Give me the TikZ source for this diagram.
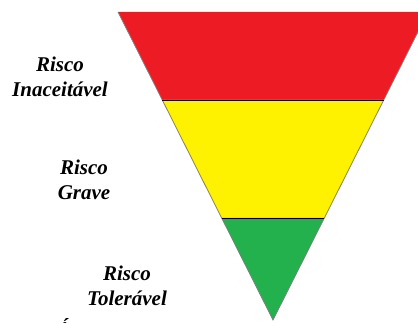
\documentclass[tikz,border=0pt]{standalone}
\usepackage{fontspec}
\setmainfont{Liberation Serif}
\usepackage{xcolor}
\definecolor{RiskRed}{HTML}{ED1C24}
\definecolor{RiskYellow}{HTML}{FFF200}
\definecolor{RiskGreen}{HTML}{22B14C}
\definecolor{EdgeGray}{HTML}{7F7F7F}

\begin{document}
\begin{tikzpicture}[
    x=1pt, y=-1pt,
    band/.style={draw=none},
    edge/.style={draw=EdgeGray, line width=0.8pt},
    divider/.style={draw=black, line width=0.9pt},
    risk/.style={align=center, font=\fontsize{21}{25}\selectfont\bfseries\itshape}
  ]
    \useasboundingbox (0,0) rectangle (418,323);
    \clip (0,0) rectangle (418,323);
    % corners of the funnel
    \coordinate (tl) at (118,12);
    \coordinate (tr) at (428,12);
    \coordinate (ml) at (162.3,100);
    \coordinate (mr) at (383.7,100);
    \coordinate (ll) at (221.7,218);
    \coordinate (lr) at (324.3,218);
    \coordinate (apex) at (273,320);
    % bands
    \fill[RiskRed] (tl) -- (tr) -- (mr) -- (ml) -- cycle;
    \fill[RiskYellow] (ml) -- (mr) -- (lr) -- (ll) -- cycle;
    \fill[RiskGreen] (ll) -- (lr) -- (apex) -- cycle;
    \draw[edge] (tl) -- (apex) -- (tr);
    \draw[divider] (ml) -- (mr);
    \draw[divider] (ll) -- (lr);
    % labels
    \node[risk] (inaceitavel) at (60,77) {Risco\\Inaceitável};
    \node[risk] (grave) at (84,180) {Risco\\Grave};
    \node[risk] (toleravel) at (127,286) {Risco\\Tolerável};
    \node[risk, anchor=base] (cut) at (64,337) {Á};
\end{tikzpicture}
\end{document}
